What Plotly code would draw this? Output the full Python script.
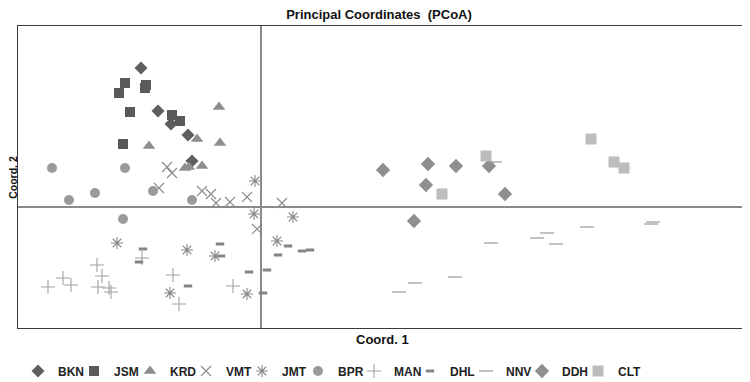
import plotly.graph_objects as go

# Coordinates (Coord. 1, Coord. 2)
bkn_x = [-1.20, -1.03, -0.90, -0.73, -0.69]
bkn_y = [1.39, 0.96, 0.83, 0.72, 0.46]

jsm_x = [-1.36, -1.42, -1.15, -1.16, -1.31, -0.89, -0.81, -1.38]
jsm_y = [1.24, 1.14, 1.22, 1.19, 0.95, 0.92, 0.86, 0.63]

krd_x = [-0.42, -1.12, -0.64, -0.41, -0.76, -0.72, -0.59]
krd_y = [1.00, 0.61, 0.68, 0.64, 0.39, 0.40, 0.41]

vmt_x = [-0.94, -0.89, -1.02, -0.59, -0.50, -0.45, -0.31, -0.14, 0.21, -0.04]
vmt_y = [0.40, 0.34, 0.19, 0.16, 0.13, 0.04, 0.05, 0.10, 0.04, -0.22]

jmt_x = [-0.06, -0.07, -1.44, -0.74, -0.46, -0.91, -0.14, 0.16, 0.32]
jmt_y = [0.26, -0.07, -0.36, -0.43, -0.49, -0.86, -0.87, -0.34, -0.10]

bpr_x = [-2.09, -1.36, -1.66, -1.92, -1.08, -1.38, -0.69]
bpr_y = [0.39, 0.39, 0.14, 0.07, 0.16, -0.12, 0.07]

man_x = [-2.13, -1.98, -1.90, -1.64, -1.59, -1.63, -1.52, -1.50, -1.19, -0.88, -0.82, -0.28]
man_y = [-0.80, -0.71, -0.78, -0.58, -0.69, -0.80, -0.81, -0.85, -0.51, -0.68, -0.97, -0.79]

dhl_x = [-1.18, -1.22, -0.41, -0.40, -0.73, -0.12, 0.02, 0.06, 0.27, 0.17, 0.41, 0.49]
dhl_y = [-0.42, -0.55, -0.37, -0.49, -0.79, -0.65, -0.86, -0.63, -0.39, -0.48, -0.44, -0.43]

nnv_x = [2.34, 2.30, 1.94, 1.54, 1.38, 2.76, 2.86, 2.95, 3.26, 3.92, 3.90]
nnv_y = [0.45, -0.36, -0.70, -0.76, -0.85, -0.31, -0.26, -0.37, -0.20, -0.15, -0.17]

ddh_x = [1.22, 1.67, 1.95, 2.28, 1.65, 2.44, 1.53]
ddh_y = [0.37, 0.43, 0.41, 0.41, 0.22, 0.13, -0.14]

clt_x = [2.25, 1.81, 3.30, 3.53, 3.63]
clt_y = [0.51, 0.13, 0.68, 0.45, 0.39]

fig = go.Figure()

def add(name, xs, ys, symbol, size, color, lw=1.2, filled=True):
    if filled:
        marker = dict(symbol=symbol, size=size, color=color, line=dict(width=0))
    else:
        marker = dict(symbol=symbol, size=size, color=color, line=dict(width=lw, color=color))
    fig.add_trace(go.Scatter(x=xs, y=ys, mode="markers", name=name, marker=marker))

add("BKN", bkn_x, bkn_y, "diamond", 10, "#5f5f5f")
add("JSM", jsm_x, jsm_y, "square", 10, "#5a5a5a")
add("KRD", krd_x, krd_y, "triangle-up", 11, "#8e8e8e")
add("VMT", vmt_x, vmt_y, "x-thin-open", 10, "#8a8a8a", 1.1, False)
add("JMT", jmt_x, jmt_y, "asterisk-open", 10, "#8a8a8a", 1.1, False)
add("BPR", bpr_x, bpr_y, "circle", 10, "#9a9a9a")
add("MAN", man_x, man_y, "cross-thin-open", 10, "#a0a0a0", 1.1, False)
add("DHL", dhl_x, dhl_y, "line-ew-open", 6, "#858585", 3, False)
add("NNV", nnv_x, nnv_y, "line-ew-open", 10, "#c2c2c2", 2, False)
add("DDH", ddh_x, ddh_y, "diamond", 11, "#8f8f8f")
add("CLT", clt_x, clt_y, "square", 11, "#bdbdbd")

# empty spacer entry so the last legend label is not clipped
fig.add_trace(go.Scatter(x=[None], y=[None], mode="markers", name=" ",
                         marker=dict(opacity=0, color="white"), hoverinfo="skip"))

axis_common = dict(showgrid=False, showticklabels=False, ticks="",
                   showline=True, mirror=True, linecolor="#3a3a3a", linewidth=1,
                   zeroline=True, zerolinecolor="#8a8a8a", zerolinewidth=1.5,
                   automargin=False)

fig.update_xaxes(range=[-2.43, 4.86], **axis_common)
fig.update_yaxes(range=[-1.21, 1.81], **axis_common)

bold_narrow = "Liberation Sans Narrow, Arial Narrow, Liberation Sans, Arial"

W, H = 742, 374  # page has an 8px body margin

fig.update_layout(
    width=W, height=H,
    margin=dict(l=10, r=3, t=18, b=54, autoexpand=False),
    paper_bgcolor="white", plot_bgcolor="white",
    title=dict(text="<b>Principal Coordinates  (PCoA)</b>", x=(379 - 8) / W, xanchor="center",
               xref="container", y=1 - 6 / H, yanchor="middle", yref="container",
               font=dict(family=bold_narrow, size=13, color="#111")),
    showlegend=True,
    legend=dict(orientation="h", xref="container", yref="container",
                x=10 / W, xanchor="left", y=1 - 363 / H, yanchor="middle",
                entrywidth=11, entrywidthmode="pixels", itemwidth=30,
                font=dict(family=bold_narrow, size=12, color="#222", weight="bold"),
                bgcolor="rgba(0,0,0,0)", tracegroupgap=0),
    annotations=[
        dict(text="<b>Coord. 1</b>", xref="paper", yref="paper", x=0.5,
             y=(320 - 331) / 302, xanchor="center", yanchor="middle", showarrow=False,
             font=dict(family=bold_narrow, size=13, color="#111")),
        dict(text="<b>Coord. 2</b>", xref="paper", yref="paper", x=(4.8 - 10) / 729,
             y=0.5, xanchor="center", yanchor="middle", textangle=-90, showarrow=False,
             font=dict(family="Liberation Sans, Arial", size=10.5, color="#111")),
    ],
)

fig.write_html("out.html")
